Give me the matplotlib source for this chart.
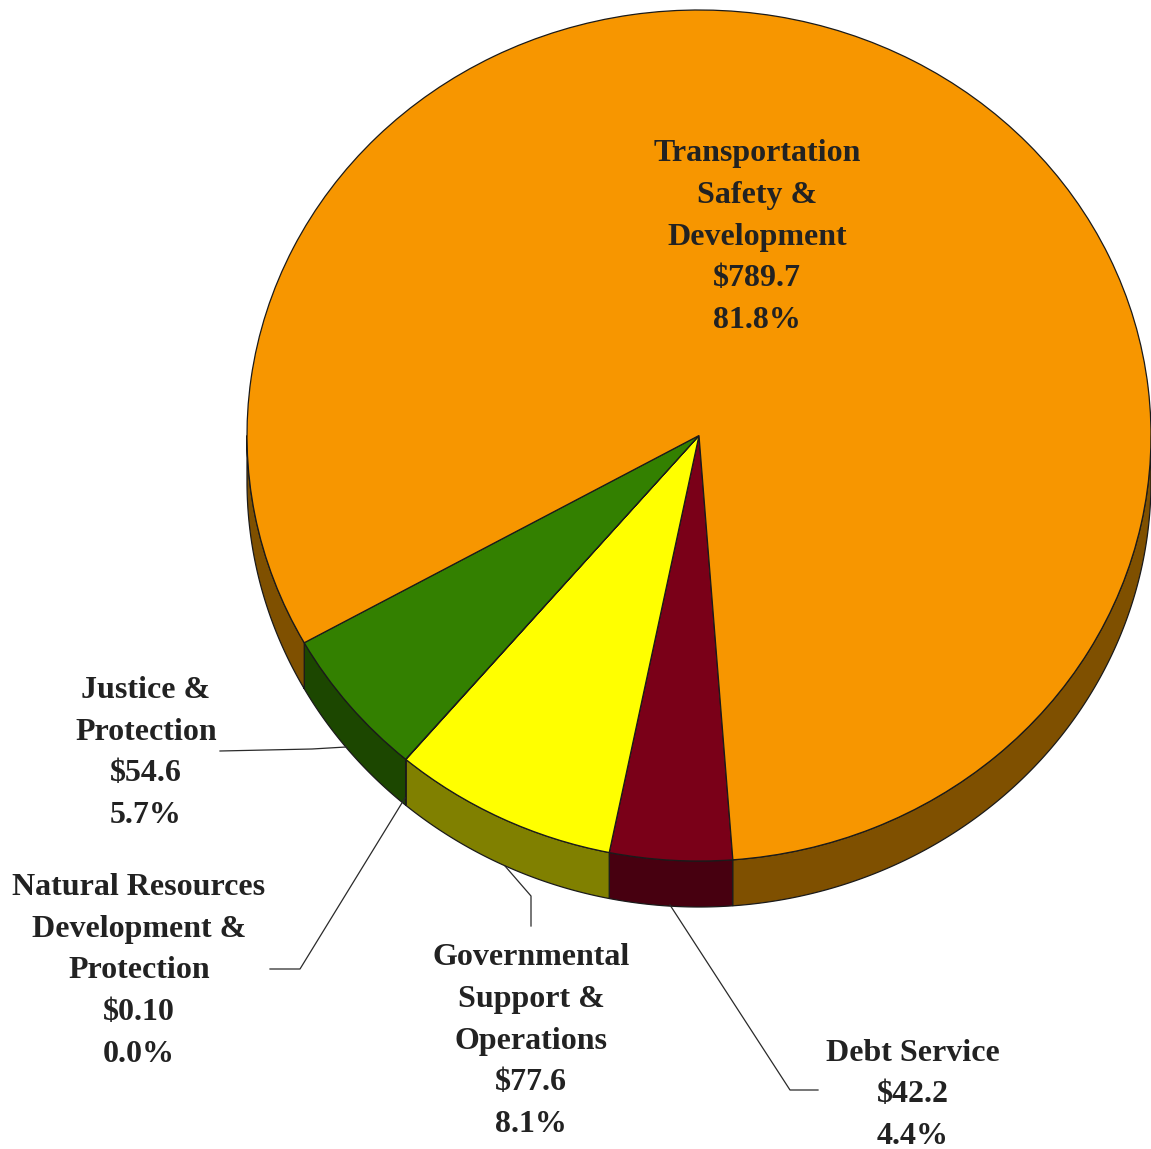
import numpy as np
import matplotlib
matplotlib.use("Agg")
import matplotlib.pyplot as plt

# Budget categories in drawing order, clockwise from the front of the pie
categories = ["Debt Service", "Governmental\nSupport &\nOperations",
              "Natural Resources\nDevelopment &\nProtection",
              "Justice &\nProtection", "Transportation\nSafety &\nDevelopment"]
amounts = [42.2, 77.6, 0.10, 54.6, 789.7]
amount_labels = ["$42.2", "$77.6", "$0.10", "$54.6", "$789.7"]
percent_labels = ["4.4%", "8.1%", "0.0%", "5.7%", "81.8%"]
top_colors = ["#7a0018", "#ffff00", "#00a0a0", "#338000", "#f79600"]
side_colors = ["#470010", "#808000", "#005050", "#1c4700", "#7f5000"]

W, H = 1151, 1149
CX, CY, RX, RY = 699.0, 435.5, 452.0, 425.5
DEPTH = 46.0 / RY
START = 274.3

fig = plt.figure(figsize=(W / 100, H / 100), dpi=100, facecolor="white")

# Unit-circle axes stretched so the pie reads as a tilted ellipse
ax = fig.add_axes([0, 0, 1, 1])
wedges, _ = ax.pie(amounts, colors=top_colors, startangle=START, counterclock=False,
                   wedgeprops=dict(edgecolor="#1a1a1a", linewidth=0.9), radius=1)
for w in wedges:
    w.set_zorder(5)
ax.set_aspect("auto")
ax.set_xlim(-CX / RX, (W - CX) / RX)
ax.set_ylim(-(H - CY) / RY, CY / RY)

# Extruded rim under each slice
fractions = np.array(amounts) / np.sum(amounts)
ends = START - np.cumsum(fractions) * 360
starts = np.r_[START, ends[:-1]]
for a0, a1, col in zip(starts, ends, side_colors):
    for lo, hi in [(a1, a0), (a1 + 360, a0 + 360)]:
        lo_c, hi_c = max(lo, 180), min(hi, 360)
        if hi_c <= lo_c:
            continue
        t = np.radians(np.linspace(lo_c, hi_c, 200))
        xs = np.r_[np.cos(t), np.cos(t)[::-1]]
        ys = np.r_[np.sin(t), np.sin(t)[::-1] - DEPTH]
        ax.fill(xs, ys, facecolor=col, edgecolor="#1a1a1a", linewidth=0.9, zorder=2)

# Overlay in pixel coordinates for labels and leader lines
ov = fig.add_axes([0, 0, 1, 1], facecolor="none")
ov.set_xlim(0, W)
ov.set_ylim(H, 0)
ov.axis("off")

font = dict(family="Liberation Serif", fontweight="bold", fontsize=23,
            color="#222222", ha="center", va="center", linespacing=1.57)
label_anchor = [(913, 1095), (531, 1041), (139, 971), (146, 753), (757, 237)]
for name, amt, pct, (x, y) in zip(categories, amount_labels, percent_labels, label_anchor):
    ov.text(x, y, f"{name}\n{amt}\n{pct}", **font)

leaders = [
    ([670, 790, 818], [905, 1090, 1090]),
    ([505, 531, 531], [866, 896, 926]),
    ([405, 300, 270], [798, 969, 969]),
    ([346, 312, 220], [747, 749, 751]),
]
for xs, ys in leaders:
    ov.plot(xs, ys, color="#2a2a2a", lw=0.9)

fig.savefig("out.png", dpi=100)
